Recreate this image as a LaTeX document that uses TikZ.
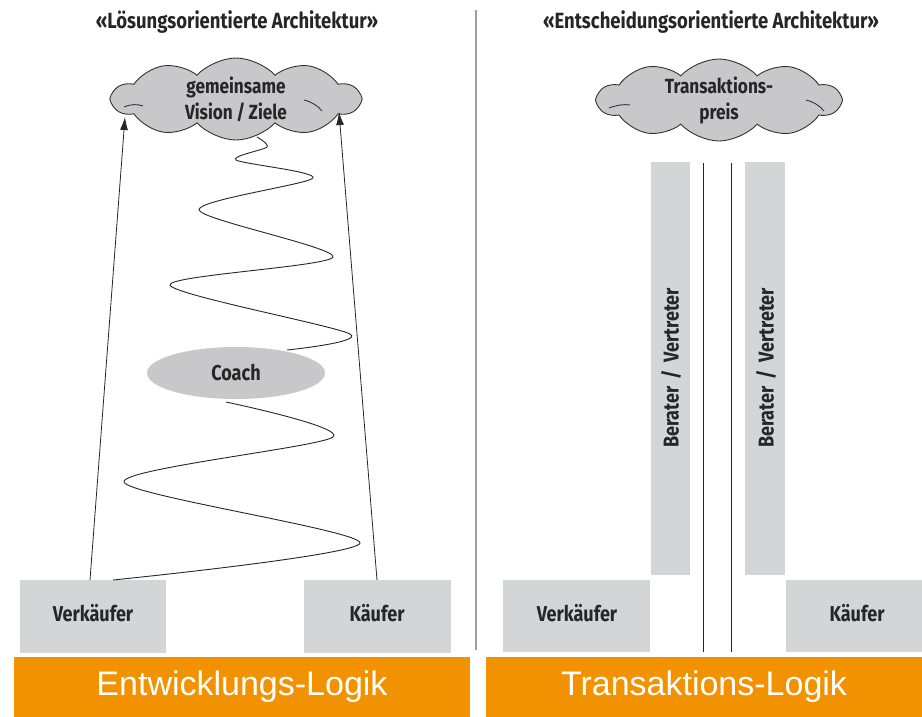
\documentclass[tikz,border=0pt]{standalone}
\usepackage{fontspec}
\setmainfont{Liberation Sans}
\newfontfamily\lblfont[FakeStretch=0.84]{Fira Sans}
\usetikzlibrary{shapes.symbols,shapes.geometric,arrows.meta}
\definecolor{boxgray}{RGB}{212,213,215}
\definecolor{cloudgray}{RGB}{200,200,202}
\definecolor{barorange}{RGB}{243,146,0}
\definecolor{divgray}{RGB}{160,160,160}
\tikzset{
  lbl/.style={font=\lblfont\bfseries\fontsize{21.5}{25}\selectfont, text=black!85},
  cloudlbl/.style={font=\lblfont\bfseries\fontsize{20.5}{24}\selectfont, text=black!85, align=center},
  graybox/.style={fill=boxgray, draw=none, inner sep=0pt, lbl},
  cloudnode/.style={cloud, cloud puffs=10, cloud puff arc=95, aspect=2.8,
     fill=cloudgray, draw=black!80, line width=0.9pt, inner sep=0pt},
  orangebar/.style={fill=barorange, draw=none, text=white, font=\fontsize{34}{38}\selectfont},
  ttl/.style={font=\lblfont\bfseries\fontsize{22}{25}\selectfont, text=black!85},
  arrowline/.style={draw=black!85, line width=0.8pt, -{Latex[length=13pt,width=8pt]}},
  wave/.style={draw=black!85, line width=0.9pt},
  puffline/.style={draw=black!80, line width=0.9pt},
}
\begin{document}
\begin{tikzpicture}[x=1pt,y=-1pt]
\useasboundingbox (0,0) rectangle (922,716);
% titles
\node[ttl] (t1) at (237,22) {«Lösungsorientierte Architektur»};
\node[ttl] (t2) at (711,22) {«Entscheidungsorientierte Architektur»};
% divider
\draw[divgray, line width=1.4pt] (476,10) -- (476,650);
% ---------- left panel ----------
\node[cloudnode, minimum width=247pt, minimum height=82pt] (cl) at (236,99) {};
\draw[puffline] (124,107) .. controls (131,104) and (137,104) .. (143,106);
\draw[puffline] (304,100) .. controls (312,102) and (318,106) .. (322,111);
\node[cloudlbl] (cltext) at (236,99) {gemeinsame\\[2pt]Vision\,/\,Ziele};
\node[ellipse, fill=cloudgray, draw=none, minimum width=178pt, minimum height=52pt, lbl] (coach) at (236,373) {Coach};
\path[graybox] (20,580) rectangle (166,653);
\node[lbl] (vk1) at (93,613) {Verkäufer};
\path[graybox] (304,580) rectangle (451,653);
\node[lbl] (kf1) at (377,613) {Käufer};
\coordinate (vk1top) at (90,580);
\coordinate (kf1top) at (377,580);
\coordinate (cltipL) at (125,117);
\coordinate (cltipR) at (339,112);
\draw[arrowline] (vk1top) -- (cltipL);
\draw[arrowline] (kf1top) -- (cltipR);
\coordinate (wstart) at (257,137);
\coordinate (wmid1) at (287,350);
\coordinate (wmid2) at (226,402);
\coordinate (wend) at (113,580);
\draw[wave] plot[smooth, tension=0.45] coordinates {(wstart) (267,147) (236,160) (313,178) (199,210) (333,257) (170,285) (350,334) (wmid1)};
\draw[wave] plot[smooth, tension=0.45] coordinates {(wmid2) (333,437) (124,482) (360,543) (wend)};
% orange bars
\node[orangebar, minimum width=456pt, minimum height=60pt, inner sep=0pt] (bar1) at (242,687) {Entwicklungs-Logik};
\node[orangebar, minimum width=436pt, minimum height=60pt, inner sep=0pt] (bar2) at (704,687) {Transaktions-Logik};
% ---------- right panel ----------
\node[cloudnode, minimum width=242pt, minimum height=82pt] (cr) at (719,100) {};
\draw[puffline] (609,108) .. controls (617,105) and (624,104) .. (630,105);
\draw[puffline] (806,100) .. controls (814,102) and (820,106) .. (824,111);
\node[cloudlbl] (crtext) at (719,100) {Transaktions-\\[2pt]preis};
\path[graybox] (651,162) rectangle (690,575);
\node[lbl, rotate=90] (bv1) at (671,368) {Berater\,\,/\,\,Vertreter};
\path[graybox] (745,162) rectangle (785,575);
\node[lbl, rotate=90] (bv2) at (766,368) {Berater\,\,/\,\,Vertreter};
\path[graybox] (503,580) rectangle (650,652);
\node[lbl] (vk2) at (577,613) {Verkäufer};
\path[graybox] (786,580) rectangle (922,652);
\node[lbl] (kf2) at (857,613) {Käufer};
\coordinate (l1t) at (703,163);
\coordinate (l1b) at (703,652);
\coordinate (l2t) at (731,163);
\coordinate (l2b) at (731,652);
\draw[black!85, line width=0.9pt] (l1t) -- (l1b);
\draw[black!85, line width=0.9pt] (l2t) -- (l2b);
\end{tikzpicture}
\end{document}
